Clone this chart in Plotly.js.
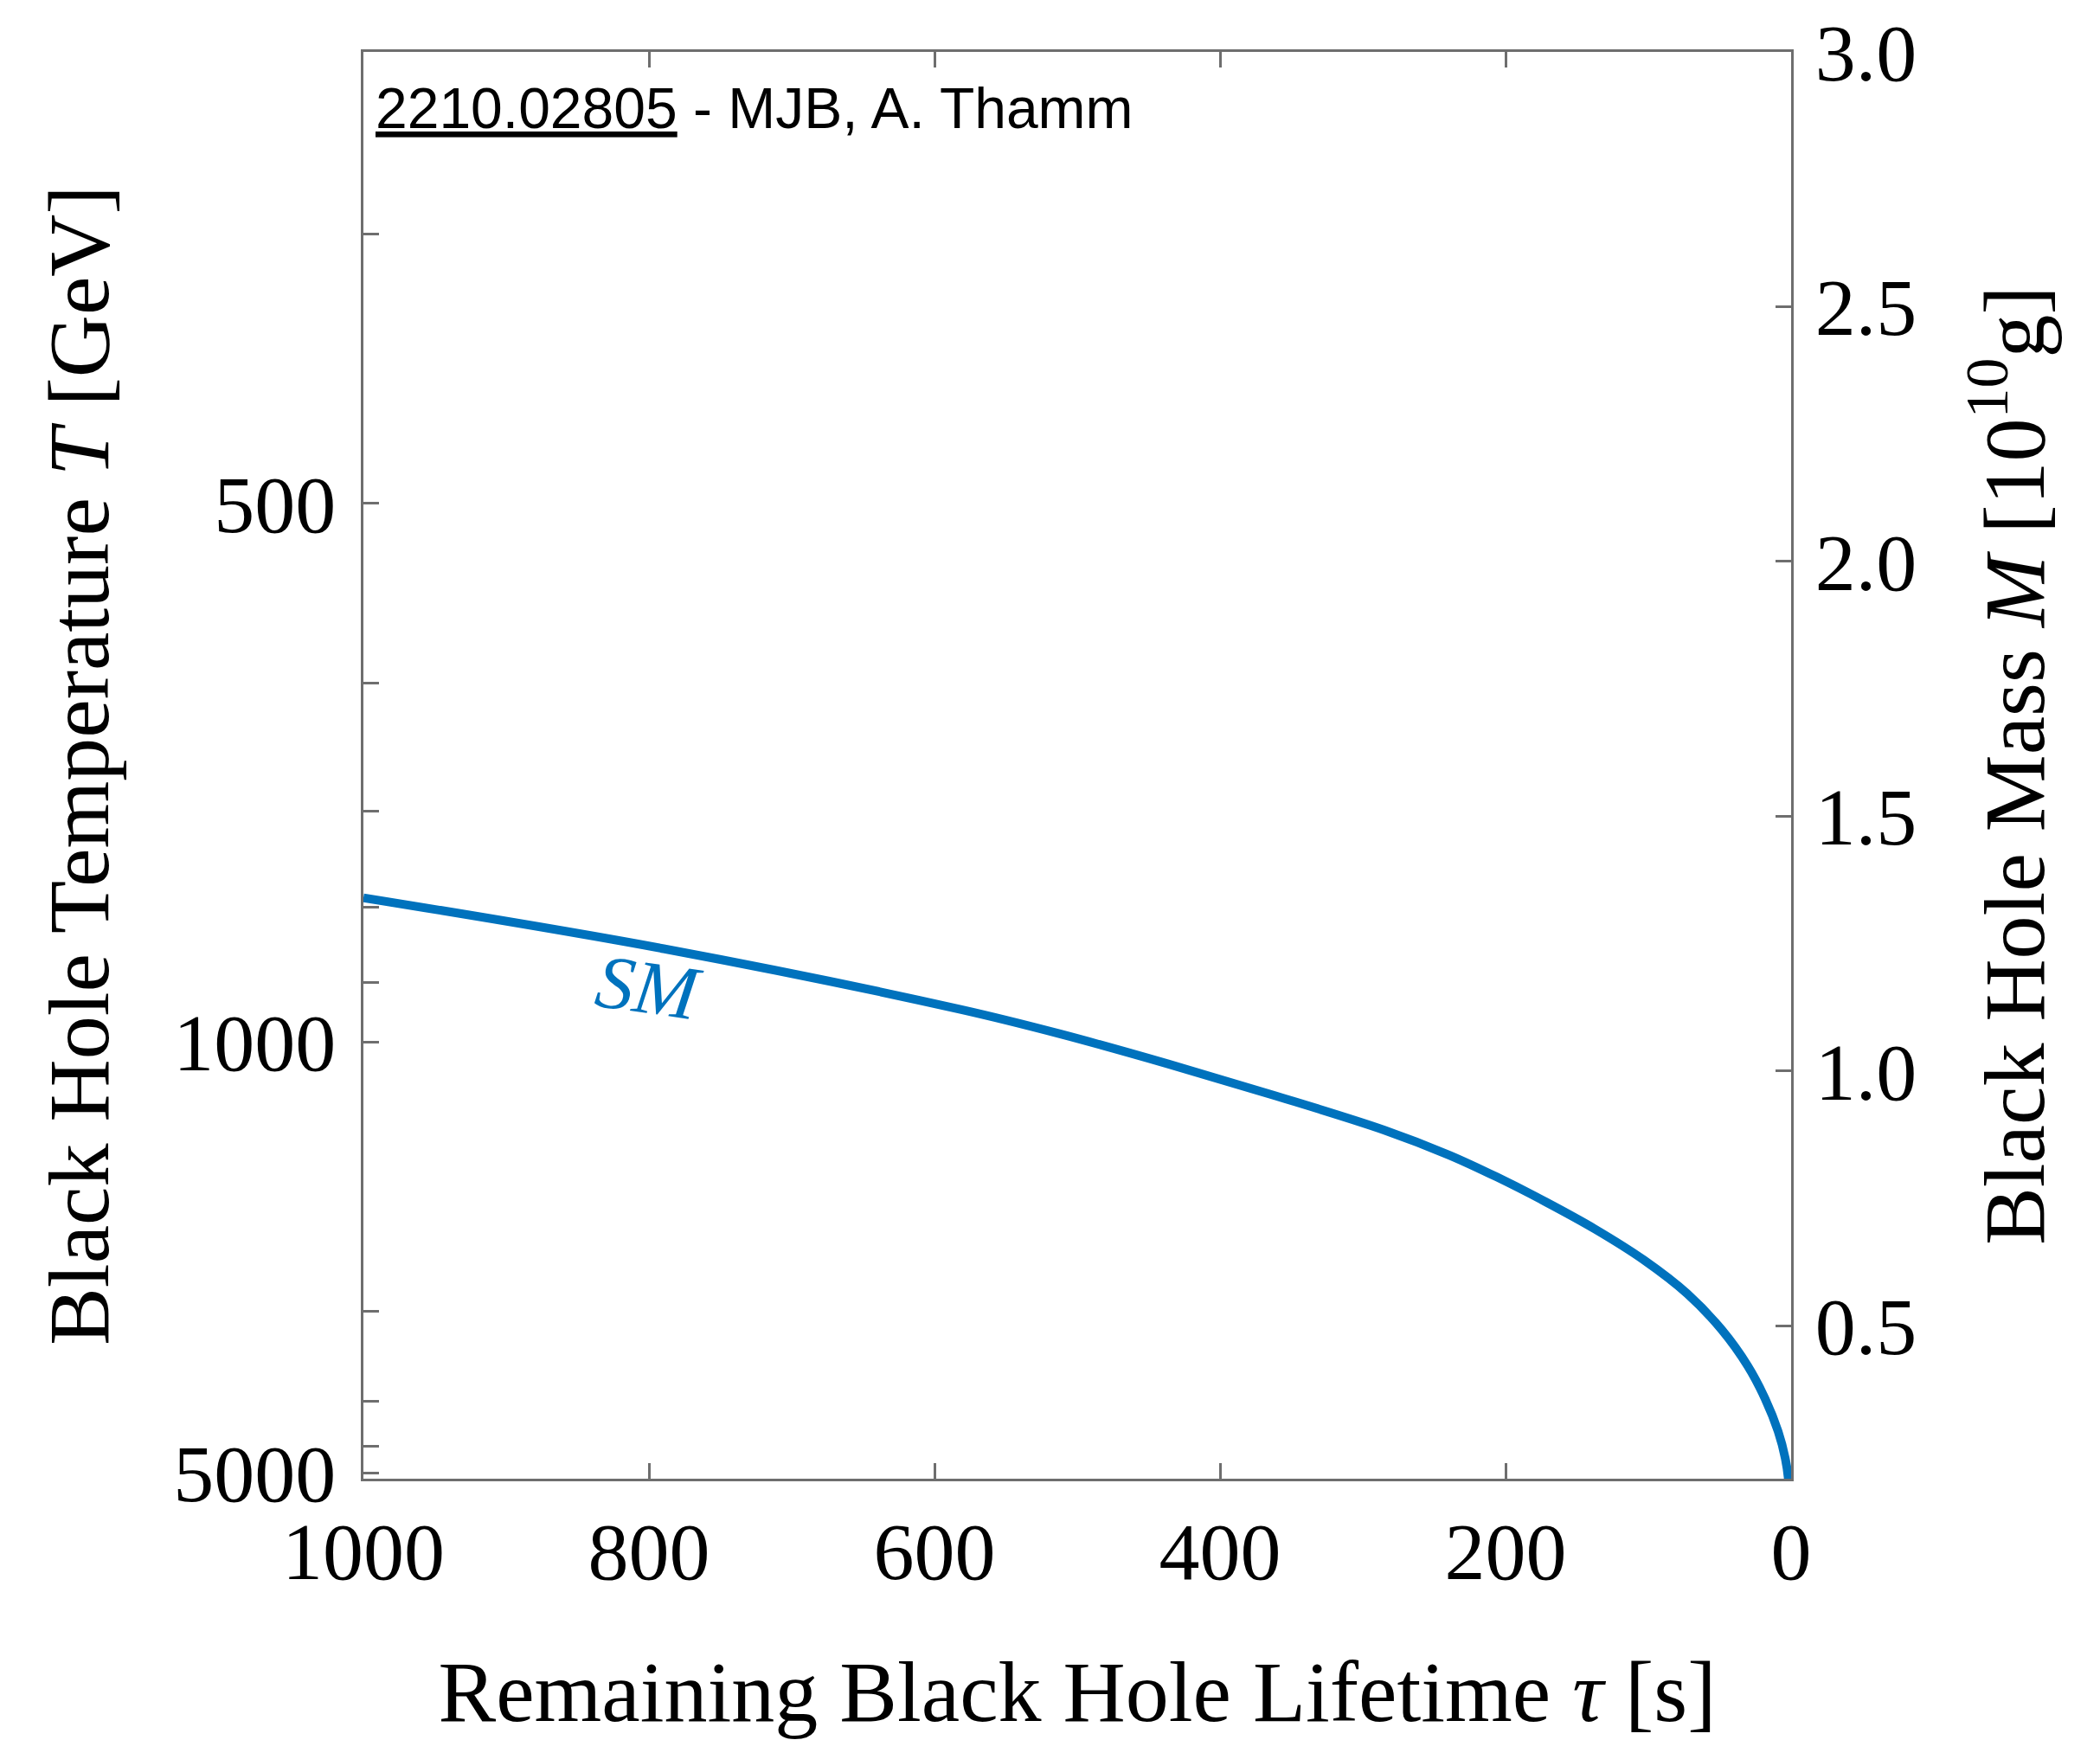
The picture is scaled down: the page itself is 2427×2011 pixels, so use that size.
<!DOCTYPE html>
<html>
<head>
<meta charset="utf-8">
<script src="https://cdn.plot.ly/plotly-3.0.1.min.js"></script>
<style>
  html, body { margin: 0; padding: 0; background: #ffffff; }
  #chart { width: 2427px; height: 2011px; }
</style>
</head>
<body>
<div id="chart"></div>
<script>
// Remaining lifetime tau [s]
const lifetimeSeconds = [1000, 789.7, 581.8, 512.1, 436.4, 360.6, 284.8, 239.4, 206.1, 171.7, 137.4, 103.0, 72.7, 48.5, 30.3, 18.2, 9.1, 4.1, 1.8, 0.0];
// Black hole mass [10^10 g]
const massE10g = [1.340, 1.240, 1.121, 1.073, 1.014, 0.951, 0.884, 0.835, 0.792, 0.743, 0.690, 0.629, 0.563, 0.492, 0.421, 0.357, 0.293, 0.240, 0.195, 0.0];

// Temperature ticks on left axis [GeV]; T = K / M with M in 10^10 g
const tempConversionGeV = 1057;
const tempMajorTicks = [500, 1000, 5000];
const tempMajorLabels = ['500', '1000', '5000'];
const tempMinorTicks = [400, 600, 700, 800, 900, 2000, 3000, 4000];

// Mass ticks on right axis
const massTickValues = [0.5, 1.0, 1.5, 2.0, 2.5, 3.0];
const massTickLabels = ['0.5', '1.0', '1.5', '2.0', '2.5', '3.0'];

// Lifetime ticks
const lifetimeTickValues = [1000, 800, 600, 400, 200, 0];
const lifetimeTickLabels = ['1000', '800', '600', '400', '200', '0'];

const seriesName = 'SM';
const massRange = [0.2, 3.0];
const lifetimeRange = [1000, 0];

const serif = '"Liberation Serif", "Times New Roman", serif';
const sans = '"Liberation Sans", Arial, sans-serif';
const axisGray = '#6e6e6e';
const blue = '#0072BD';

const massTrace = {
  x: lifetimeSeconds,
  y: massE10g,
  type: 'scatter',
  mode: 'lines',
  name: seriesName,
  xaxis: 'x',
  yaxis: 'y2',
  line: { color: blue, width: 10, shape: 'spline', smoothing: 1 },
  hoverinfo: 'skip',
  showlegend: false
};

// empty trace so the temperature (left) axis gets its own subplot drawn
const temperatureAxisTrace = {
  x: [],
  y: [],
  type: 'scatter',
  mode: 'lines',
  xaxis: 'x',
  yaxis: 'y',
  hoverinfo: 'skip',
  showlegend: false
};

const commonAxis = {
  showgrid: false,
  zeroline: false,
  showline: true,
  linecolor: axisGray,
  linewidth: 3,
  ticks: 'inside',
  ticklen: 18,
  tickwidth: 3,
  tickcolor: axisGray,
  tickfont: { family: serif, size: 94, color: '#000000' },
  automargin: false
};

const titleFont = { family: serif, size: 100, color: '#000000' };

const layout = {
  width: 2427,
  height: 2011,
  margin: { l: 420, r: 357, t: 60, b: 302 },
  paper_bgcolor: '#ffffff',
  plot_bgcolor: '#ffffff',
  showlegend: false,
  xaxis: Object.assign({}, commonAxis, {
    range: lifetimeRange,
    tickmode: 'array',
    tickvals: lifetimeTickValues,
    ticktext: lifetimeTickLabels,
    mirror: 'ticks',
    ticklabelstandoff: 0,
    title: {
      text: 'Remaining Black Hole Lifetime <i>τ</i> [s]',
      font: titleFont,
      standoff: 80
    }
  }),
  yaxis: Object.assign({}, commonAxis, {
    range: massRange,
    tickmode: 'array',
    tickvals: tempMajorTicks.map(t => tempConversionGeV / t),
    ticktext: tempMajorLabels,
    minor: {
      tickmode: 'array',
      tickvals: tempMinorTicks.map(t => tempConversionGeV / t),
      ticks: 'inside',
      ticklen: 18,
      tickwidth: 3,
      tickcolor: axisGray,
      showgrid: false
    },
    side: 'left',
    ticklabelstandoff: 10,
    title: {
      text: 'Black Hole Temperature <i>T</i> [GeV]',
      font: titleFont,
      standoff: 42
    }
  }),
  yaxis2: Object.assign({}, commonAxis, {
    range: massRange,
    overlaying: 'y',
    side: 'right',
    anchor: 'x',
    tickmode: 'array',
    tickvals: massTickValues,
    ticktext: massTickLabels,
    ticklabelstandoff: 6,
    title: {
      text: 'Black Hole Mass <i>M</i> [10<sup>10</sup>g]',
      font: titleFont,
      standoff: 78
    }
  }),
  annotations: [
    {
      xref: 'paper', yref: 'paper',
      x: 0.0, y: 1.0,
      xanchor: 'left', yanchor: 'top',
      xshift: 12, yshift: -26,
      showarrow: false,
      text: '<span style="text-decoration:underline">2210.02805</span> - MJB, A. Thamm',
      font: { family: sans, size: 66, color: '#000000' }
    },
    {
      xref: 'x', yref: 'y2',
      x: 800, y: 1.163,
      showarrow: false,
      text: '<i>' + seriesName + '</i>',
      textangle: 8,
      font: { family: serif, size: 88, color: blue }
    }
  ]
};

Plotly.newPlot('chart', [temperatureAxisTrace, massTrace], layout, { staticPlot: true, displayModeBar: false });
</script>
</body>
</html>
